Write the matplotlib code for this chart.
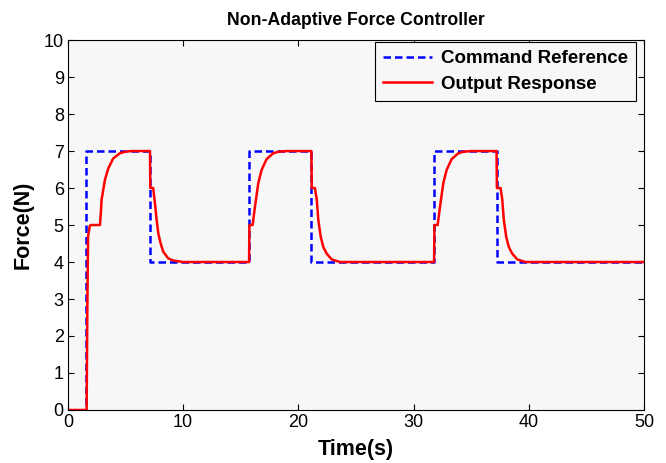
import matplotlib
matplotlib.use("Agg")
import matplotlib.pyplot as plt

# Command reference (step values, held until the next time)
cmd_t = [0, 1.6, 7.1, 15.7, 21.1, 31.8, 37.2, 50]
cmd_f = [0, 7, 4, 7, 4, 7, 4, 4]

# Output response, points
out_t = [0, 1.62, 1.64, 1.68, 1.75, 1.9, 2.0, 2.78, 2.85, 2.92, 3.21, 3.5, 3.93,
         4.51, 4.95, 5.5, 7.12, 7.15, 7.4, 7.55, 7.7, 7.84, 8.04, 8.27, 8.7,
         9.14, 10.0, 15.72,
         15.75, 16.03, 16.23, 16.52, 16.81, 17.24, 17.82, 18.26, 19.0, 21.13,
         21.16, 21.44, 21.6, 21.73, 21.94, 22.16, 22.45, 22.89, 23.6, 31.78,
         31.81, 32.09, 32.29, 32.58, 32.87, 33.3, 33.88, 34.32, 35.0, 37.2,
         37.23, 37.55, 37.7, 37.83, 38.04, 38.26, 38.55, 39.0, 39.7, 50]
out_f = [0, 0, 0.73, 2.6, 4.7, 4.98, 5.0, 5.0, 5.3, 5.68, 6.22, 6.53, 6.8,
         6.94, 6.98, 7.0, 7.0, 6.0, 6.0, 5.59, 5.14, 4.78, 4.51, 4.28, 4.1,
         4.04, 4.0, 4.0,
         5.0, 5.0, 5.49, 6.13, 6.49, 6.78, 6.94, 6.98, 7.0, 7.0,
         6.0, 6.0, 5.68, 5.14, 4.68, 4.41, 4.23, 4.07, 4.0, 4.0,
         5.0, 5.0, 5.49, 6.13, 6.49, 6.78, 6.94, 6.98, 7.0, 7.0,
         6.0, 6.0, 5.68, 5.14, 4.68, 4.41, 4.23, 4.07, 4.0, 4.0]

plt.rcParams["font.family"] = ["Liberation Sans", "DejaVu Sans"]

fig = plt.figure(figsize=(6.66, 4.63), dpi=100)
ax = fig.add_axes([0.102, 0.1145, 0.865, 0.799])
ax.set_facecolor("#f7f7f7")

ax.plot(cmd_t, cmd_f, "--", color="#0000ff", lw=1.8, drawstyle="steps-post",
        label="Command Reference", dashes=(3, 1.6))
ax.plot(out_t, out_f, "-", color="#ff0000", lw=1.8, label="Output Response")

ax.set_xlim(0, 50)
ax.set_ylim(0, 10)
ax.set_xticks(range(0, 51, 10))
ax.set_yticks(range(0, 11))
ax.tick_params(direction="in", top=True, right=True, labelsize=13, length=4, pad=3)
for s in ax.spines.values():
    s.set_linewidth(0.8)

ax.set_title("Non-Adaptive Force Controller", fontsize=12.7, fontweight="bold", pad=11)
ax.set_xlabel("Time(s)", fontsize=15.5, fontweight="bold", labelpad=6)
ax.set_ylabel("Force(N)", fontsize=15.5, fontweight="bold", labelpad=7)

leg = ax.legend(loc="upper right", bbox_to_anchor=(0.986, 0.995),
                prop={"weight": "bold", "size": 13.5},
                fancybox=False, edgecolor="black", facecolor="#f7f7f7",
                framealpha=1, borderaxespad=0, handlelength=2.6,
                handletextpad=0.45, labelspacing=0.45, borderpad=0.45)
leg.get_frame().set_linewidth(0.8)

fig.savefig("out.png", dpi=100)
